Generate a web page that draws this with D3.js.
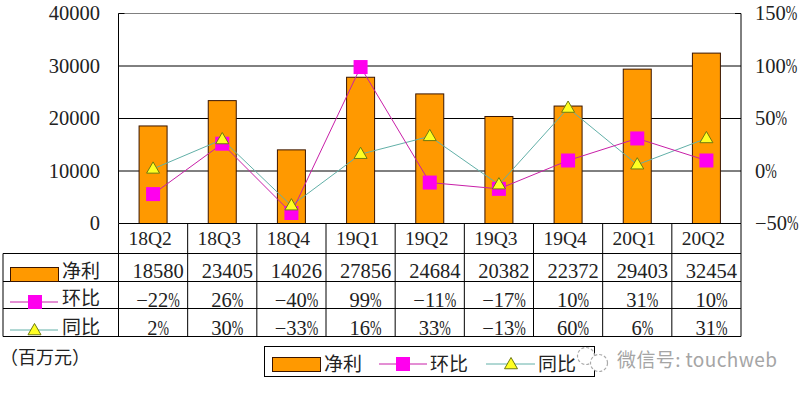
<!DOCTYPE html>
<html><head><meta charset="utf-8">
<script src="https://cdn.jsdelivr.net/npm/d3@7/dist/d3.min.js"></script>
<style>html,body{margin:0;padding:0;background:#fff}svg{display:block}</style></head>
<body><svg id="c" width="804" height="395"></svg>
<script>
const categories=["18Q2","18Q3","18Q4","19Q1","19Q2","19Q3","19Q4","20Q1","20Q2"];
const profit=[18580,23405,14026,27856,24684,20382,22372,29403,32454];
const qoq=[-22,26,-40,99,-11,-17,10,31,10];
const yoy=[2,30,-33,16,33,-13,60,6,31];
const leftTicks=[0,10000,20000,30000,40000];
const rightTicks=[-50,0,50,100,150];
const nameProfit="净利",nameQoq="环比",nameYoy="同比",unit="（百万元）",watermark="微信号: touchweb";

const LAT='"Liberation Serif",serif',CJK='"Noto Sans CJK SC",sans-serif';
const PINK="#ff00ee",ORANGE="#ff9900",YEL="#ffff22",TEAL="#62b0a8",PLINE="#c81fa8",DK="#3a1500",INK="#222";
const svg=d3.select("#c");
const L=118.5,R=741,T=13.5,B=223.5,rows=[253.5,281.5,308.5,336.5],tblL=3;
const x=d3.scaleBand().domain(categories).range([L,R]);
const yL=d3.scaleLinear().domain([0,40000]).range([B,T]);
const yR=d3.scaleLinear().domain([-50,150]).range([B,T]);
const cx=c=>x(c)+x.bandwidth()/2;
// the reference font has a narrow % sign: squeeze the glyph horizontally
const pctText=(sel,v)=>{
  sel.text(null);
  sel.append("tspan").text(v<0?"−"+(-v):v);
  sel.append("tspan").attr("textLength",11.5).attr("lengthAdjust","spacingAndGlyphs").text("%");
};

// grid
svg.append("g").selectAll("line").data(leftTicks.filter(t=>t>0)).join("line")
 .attr("x1",L).attr("x2",R).attr("y1",d=>yL(d)).attr("y2",d=>yL(d))
 .attr("stroke",d=>d===40000?"#808080":"#000").attr("stroke-width",1);
// bars
svg.append("g").selectAll("rect").data(categories).join("rect")
 .attr("x",c=>cx(c)-14).attr("width",28)
 .attr("y",(c,i)=>yL(profit[i])).attr("height",(c,i)=>B-yL(profit[i]))
 .attr("fill",ORANGE).attr("stroke",DK).attr("stroke-width",1);
// axis lines
[L,R].forEach(v=>svg.append("line").attr("x1",v).attr("x2",v).attr("y1",T).attr("y2",B).attr("stroke","#000"));
svg.append("line").attr("x1",R-6).attr("x2",R).attr("y1",T).attr("y2",T).attr("stroke","#000");
svg.append("line").attr("x1",L).attr("x2",L+6).attr("y1",T).attr("y2",T).attr("stroke","#000");
// axis labels
svg.append("g").selectAll("text").data(leftTicks).join("text")
 .attr("x",100).attr("y",d=>yL(d)).attr("dy","0.33em").attr("text-anchor","end")
 .attr("font-family",LAT).attr("font-size",20.5).attr("fill",INK).text(d=>d);
svg.append("g").selectAll("text").data(rightTicks).join("text")
 .attr("x",755).attr("y",d=>yR(d)).attr("dy","0.33em").attr("text-anchor","start")
 .attr("font-family",LAT).attr("font-size",20.5).attr("fill",INK)
 .each(function(d){pctText(d3.select(this),d);});
// lines
const line=a=>d3.line().x((d,i)=>cx(categories[i])).y(d=>yR(d))(a);
svg.append("path").attr("d",line(yoy)).attr("fill","none").attr("stroke",TEAL).attr("stroke-width",1);
svg.append("path").attr("d",line(qoq)).attr("fill","none").attr("stroke",PLINE).attr("stroke-width",1);
const sq=(g,px,py,s)=>g.append("rect").attr("x",px-s/2).attr("y",py-s/2).attr("width",s).attr("height",s).attr("fill",PINK);
const tri=(g,px,py,s)=>g.append("path").attr("transform",`translate(${px},${py})`)
 .attr("d",d3.symbol(d3.symbolTriangle,s*s*0.433)()).attr("fill",YEL).attr("stroke","#6e7a10").attr("stroke-width",1);
const gm=svg.append("g");
categories.forEach((c,i)=>sq(gm,cx(c),yR(qoq[i]),14));
categories.forEach((c,i)=>tri(gm,cx(c),yR(yoy[i])+0.5,13));

// table
const t=svg.append("g").attr("stroke","#000").attr("fill","none");
t.append("line").attr("x1",L).attr("x2",R).attr("y1",B).attr("y2",B);
rows.forEach(r=>t.append("line").attr("x1",tblL).attr("x2",R).attr("y1",r).attr("y2",r));
t.append("line").attr("x1",tblL).attr("x2",tblL).attr("y1",rows[0]).attr("y2",rows[3]);
d3.range(10).forEach(i=>{const v=L+i*x.step();t.append("line").attr("x1",v).attr("x2",v).attr("y1",B).attr("y2",rows[3]);});
const tx=(px,py,s,size,fam,anc)=>svg.append("text").attr("x",px).attr("y",py).attr("text-anchor",anc||"middle")
 .attr("font-family",fam).attr("font-size",size).attr("fill",INK).text(s);
categories.forEach((c,i)=>{
 tx(cx(c)-3,244.5,c,19.5,LAT);
 tx(cx(c)+5,278,profit[i],20.5,LAT);
 pctText(tx(cx(c)+5,307,"",20.5,LAT),qoq[i]);
 pctText(tx(cx(c)+5,335,"",20.5,LAT),yoy[i]);
});
// row legend keys
svg.append("rect").attr("x",10.5).attr("y",267.5).attr("width",48).attr("height",14).attr("fill",ORANGE).attr("stroke",DK);
tx(62,278,nameProfit,19,CJK,"start");
svg.append("line").attr("x1",10).attr("x2",58).attr("y1",302).attr("y2",302).attr("stroke",PLINE);
sq(svg,35,302,14);
tx(62,305,nameQoq,19,CJK,"start");
svg.append("line").attr("x1",10).attr("x2",58).attr("y1",330).attr("y2",330).attr("stroke",TEAL);
tri(svg,34.5,331,13);
tx(62,333.5,nameYoy,19,CJK,"start");
// unit
tx(0,364,unit,18,CJK,"start");
// bottom legend
svg.append("rect").attr("x",264.5).attr("y",346.5).attr("width",330).attr("height",30).attr("fill","#fff").attr("stroke","#000");
svg.append("rect").attr("x",272.5).attr("y",357.5).attr("width",48).attr("height",14).attr("fill",ORANGE).attr("stroke",DK);
tx(324,371,nameProfit,19,CJK,"start");
svg.append("line").attr("x1",379).attr("x2",427).attr("y1",364).attr("y2",364).attr("stroke",PLINE);
sq(svg,403,364,14);
tx(430,371,nameQoq,19,CJK,"start");
svg.append("line").attr("x1",486).attr("x2",535).attr("y1",364).attr("y2",364).attr("stroke",TEAL);
tri(svg,511,365,13);
tx(538,371,nameYoy,19,CJK,"start");
// watermark
const wm=svg.append("g").attr("fill","#fff").attr("stroke","#aaa").attr("stroke-width",1.2).attr("stroke-dasharray","3 2");
wm.append("circle").attr("cx",586).attr("cy",356).attr("r",8.5);
wm.append("circle").attr("cx",599).attr("cy",363).attr("r",8.5);
svg.append("text").attr("x",617).attr("y",367).attr("font-family",CJK).attr("font-size",19).attr("letter-spacing",0.4).attr("fill","#a5a5a5").text(watermark);
</script></body></html>
